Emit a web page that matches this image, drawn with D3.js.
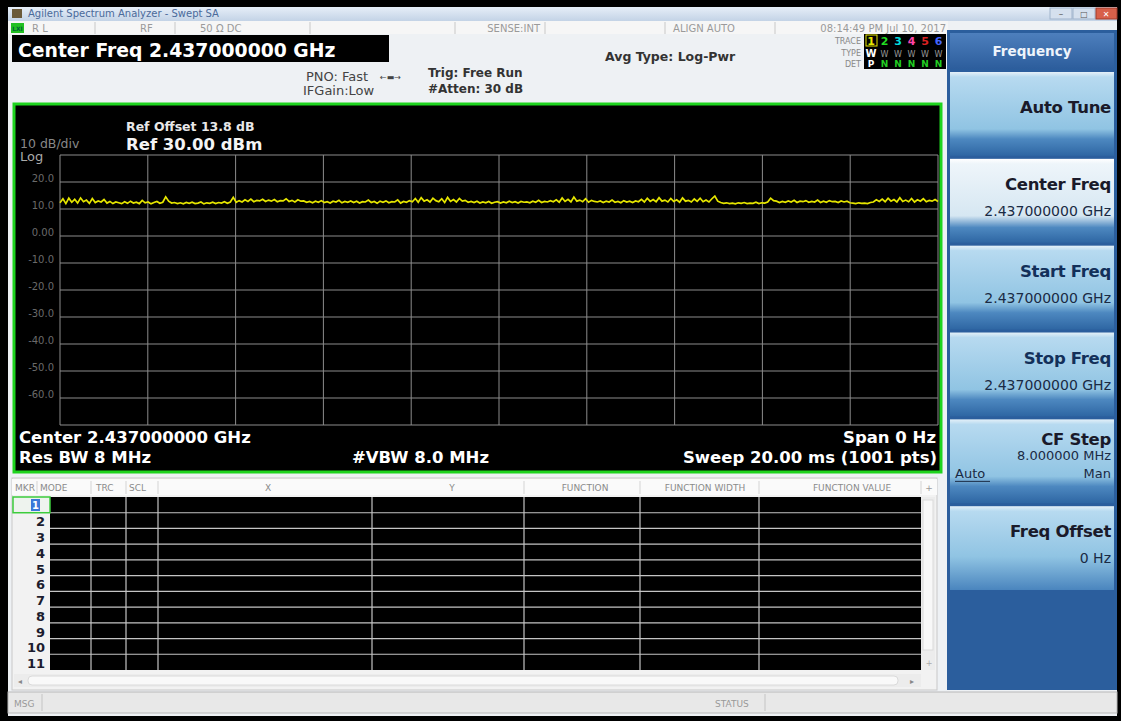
<!DOCTYPE html>
<html>
<head>
<meta charset="utf-8">
<script src="https://cdn.jsdelivr.net/npm/d3@7"></script>
<style>
body { margin: 0; background: #000; }
svg { display: block; }
</style>
</head>
<body>
<svg id="scr" width="1121" height="721"></svg>
<script>
const refLevel = 30
const bottomLevel = -70
const yTicks = [20, 10, 0, -10, -20, -30, -40, -50, -60]
const yTickLabels = ["20.0", "10.0", "0.00", "-10.0", "-20.0", "-30.0", "-40.0", "-50.0", "-60.0"]
const sweepMs = 20
const timeDivs = 10

// zero span trace, dBm, sampled across the 20 ms sweep
const trace = [
    12.3, 13.8, 12.0, 14.0, 12.5, 13.6, 12.2, 14.1, 12.7, 13.3, 12.1, 13.9, 12.4, 13.0, 12.6, 13.5, 12.2, 12.8, 12.0, 12.6,
    12.3, 12.0, 12.7, 12.1, 12.9, 12.2, 12.5, 12.0, 13.2, 12.3, 12.6, 11.9, 12.4, 12.8, 12.1, 12.5, 14.5, 12.9, 12.2, 12.4,
    12.0, 12.3, 11.9, 12.4, 12.1, 12.5, 12.0, 12.2, 12.6, 11.9, 12.3, 12.1, 12.5, 12.0, 12.4, 12.2, 12.7, 12.1, 12.6, 14.3,
    12.5, 13.1, 12.6, 13.4, 12.8, 13.7, 12.7, 13.2, 13.0, 13.6, 12.8, 13.3, 12.9, 13.5, 12.7, 13.1, 13.0, 13.8, 12.8, 13.2,
    12.6, 13.4, 12.9, 13.0, 12.5, 12.8, 12.3, 12.9, 12.5, 13.1, 12.4, 12.7, 12.2, 12.9, 12.6, 13.2, 12.3, 12.8, 12.5, 13.0,
    12.4, 12.9, 12.2, 12.7, 12.6, 13.3, 12.4, 12.8, 12.1, 12.9, 12.5, 13.0, 12.3, 12.7, 12.6, 13.4, 12.2, 12.8, 12.5, 13.1,
    12.7, 13.9, 12.5, 14.2, 12.9, 13.4, 12.6, 14.0, 13.1, 12.7, 13.8, 12.4, 14.3, 12.8, 13.5, 12.6, 13.9, 12.9, 13.2, 12.5,
    12.8, 12.4, 12.9, 12.2, 12.6, 12.3, 12.8, 12.1, 12.5, 12.7, 12.2, 12.6, 12.3, 12.9, 12.4, 12.7, 12.2, 12.8, 12.5, 12.6,
    12.3, 12.9, 12.5, 13.2, 12.4, 12.8, 12.6, 13.1, 12.7, 13.4, 12.5, 14.1, 12.8, 13.6, 12.6, 14.4, 12.9, 13.3, 12.7, 13.8,
    12.5, 13.2, 12.8, 12.6, 13.0, 12.4, 12.9, 12.6, 13.3, 12.5, 12.8, 12.3, 13.1, 12.6, 12.9, 12.4, 13.0, 12.7, 13.6, 12.6,
    14.0, 12.8, 13.5, 12.7, 14.2, 12.9, 13.3, 12.6, 13.9, 12.8, 13.4, 12.5, 14.1, 12.9, 13.2, 12.6, 13.7, 12.8, 14.0, 12.7,
    13.3, 12.6, 13.8, 14.8, 12.9, 12.4, 12.1, 12.3, 12.0, 12.2, 11.9, 12.3, 12.1, 12.4, 12.0, 12.2, 12.1, 12.5, 12.0, 12.3,
    12.2, 12.6, 14.0, 13.1, 12.9, 12.4, 12.8, 12.5, 13.0, 12.6, 13.2, 12.4, 12.9, 12.7, 13.1, 12.5, 12.8, 12.6, 13.3, 12.4,
    12.9, 12.5, 13.1, 12.7, 12.8, 12.4, 13.0, 12.6, 12.9, 12.3, 12.2, 12.0, 12.3, 12.1, 12.2, 12.0, 12.4, 12.6, 13.4, 12.8,
    13.7, 12.7, 14.0, 12.9, 13.5, 12.6, 14.2, 12.8, 13.3, 12.7, 13.9, 12.6, 13.4, 12.9, 13.8, 12.7, 13.2, 12.9, 13.5, 12.8
]

const markerRows = [1, 2, 3, 4, 5, 6, 7, 8, 9, 10, 11]
const tableHeads = ["MKR", "MODE", "TRC", "SCL", "X", "Y", "FUNCTION", "FUNCTION WIDTH", "FUNCTION VALUE"]

const softkeyNames = ["Auto Tune", "Center Freq", "Start Freq", "Stop Freq", "CF Step", "Freq Offset"]
const softkeyValues = ["", "2.437000000 GHz", "2.437000000 GHz", "2.437000000 GHz", "8.000000 MHz", "0 Hz"]

const statusItems = ["R L", "RF", "50 \u03A9   DC", "SENSE:INT", "ALIGN AUTO", "08:14:49 PM Jul 10, 2017"]
const traceNums = ["1", "2", "3", "4", "5", "6"]
const traceColors = ["#e8e800", "#22dd22", "#00dddd", "#ff44aa", "#dd2222", "#4466ff"]

// ---- drawing ----
const W = 1121, H = 721
const FONT = "'DejaVu Sans', Verdana, sans-serif"
const svg = d3.select("#scr")

const defs = svg.append("defs")
function vgrad(id, stops) {
    const g = defs.append("linearGradient").attr("id", id)
        .attr("x1", 0).attr("y1", 0).attr("x2", 0).attr("y2", 1)
    stops.forEach(s => g.append("stop").attr("offset", s[0]).attr("stop-color", s[1]))
}
vgrad("title", [[0, "#e6eef8"], [1, "#c3d3e6"]])
vgrad("key", [[0, "#e4f0f8"], [0.06, "#b7daf0"], [0.68, "#90c4e3"], [0.8, "#4d88c0"], [1, "#2e66a3"]])
vgrad("keySel", [[0, "#ffffff"], [0.06, "#eef5fa"], [0.68, "#d6e7f2"], [0.82, "#4d88c0"], [1, "#2e66a3"]])
vgrad("keyLast", [[0, "#e4f0f8"], [0.06, "#b7daf0"], [0.6, "#90c4e3"], [1, "#4a85be"]])
vgrad("keyHead", [[0, "#4d7fbd"], [1, "#2c5d9c"]])

function txt(g, x, y, s, o) {
    o = o || {}
    const t = g.append("text").attr("x", x).attr("y", y).text(s)
        .attr("font-family", FONT)
        .attr("font-size", o.size || 12)
        .attr("font-weight", o.bold ? "bold" : "normal")
        .attr("fill", o.fill || "#000")
        .attr("text-anchor", o.anchor || "start")
    if (o.ls) t.attr("letter-spacing", o.ls)
    return t
}

svg.append("rect").attr("width", W).attr("height", H).attr("fill", "#000")

// window title bar
svg.append("rect").attr("x", 8).attr("y", 7).attr("width", 1109).attr("height", 14).attr("fill", "url(#title)")
svg.append("rect").attr("x", 12).attr("y", 9).attr("width", 10).attr("height", 9).attr("fill", "#6b5a3a")
txt(svg, 28, 17, "Agilent Spectrum Analyzer - Swept SA", {size: 10, fill: "#4a6a9a"})
svg.append("rect").attr("x", 1050).attr("y", 8).attr("width", 22).attr("height", 11).attr("fill", "#d5e0ee").attr("stroke", "#9fb3cc")
svg.append("rect").attr("x", 1073).attr("y", 8).attr("width", 22).attr("height", 11).attr("fill", "#d5e0ee").attr("stroke", "#9fb3cc")
svg.append("rect").attr("x", 1096).attr("y", 8).attr("width", 21).attr("height", 11).attr("fill", "#d8604a").attr("stroke", "#a03a2a")
txt(svg, 1061, 17, "\u2013", {size: 9, fill: "#555", anchor: "middle"})
txt(svg, 1084, 17, "\u25A1", {size: 8, fill: "#555", anchor: "middle"})
txt(svg, 1106, 17, "\u2715", {size: 8, fill: "#fff", anchor: "middle"})

// application background
svg.append("rect").attr("x", 8).attr("y", 21).attr("width", 1109).attr("height", 695).attr("fill", "#eef1f4")

// status row
const statusRow = svg.append("g")
statusRow.append("rect").attr("x", 8).attr("y", 21).attr("width", 940).attr("height", 13).attr("fill", "#f6f6f6")
statusRow.append("rect").attr("x", 11).attr("y", 23).attr("width", 13).attr("height", 10).attr("fill", "#22c022")
txt(statusRow, 17.5, 31, "LXI", {size: 6, bold: true, fill: "#063", anchor: "middle"})
const statusX = [32, 140, 200, 540, 735, 946]
const statusAnchor = ["start", "start", "start", "end", "end", "end"]
statusItems.forEach((s, i) => txt(statusRow, statusX[i], 31.5, s, {size: 10, fill: "#9a9a9a", anchor: statusAnchor[i]}))
;[95, 175, 310, 455, 545, 665, 775].forEach(x =>
    statusRow.append("line").attr("x1", x).attr("x2", x).attr("y1", 22).attr("y2", 34).attr("stroke", "#c8c8c8"))

// header area
const hdr = svg.append("g")
hdr.append("rect").attr("x", 12).attr("y", 35).attr("width", 377).attr("height", 27).attr("fill", "#000")
txt(hdr, 18, 57, "Center Freq 2.437000000 GHz", {size: 18.8, bold: true, fill: "#fff"})
txt(hdr, 306, 81, "PNO: Fast", {size: 13, fill: "#444"})
txt(hdr, 380, 80, "\u2190\u25AC\u2192", {size: 8, fill: "#444"})
txt(hdr, 303, 95, "IFGain:Low", {size: 13, fill: "#444"})
txt(hdr, 428, 77, "Trig: Free Run", {size: 12, bold: true, fill: "#333"})
txt(hdr, 428, 93, "#Atten: 30 dB", {size: 12, bold: true, fill: "#333"})
txt(hdr, 605, 61, "Avg Type: Log-Pwr", {size: 12.5, bold: true, fill: "#333"})

// trace block
const tb = svg.append("g")
txt(tb, 861, 44, "TRACE", {size: 8, fill: "#888", anchor: "end"})
txt(tb, 861, 56, "TYPE", {size: 8, fill: "#888", anchor: "end"})
txt(tb, 861, 67, "DET", {size: 8, fill: "#888", anchor: "end"})
tb.append("rect").attr("x", 864).attr("y", 34).attr("width", 82).attr("height", 35).attr("fill", "#000")
tb.append("rect").attr("x", 866).attr("y", 35).attr("width", 11).attr("height", 11).attr("fill", "none").attr("stroke", "#e8e800")
traceNums.forEach((n, i) => {
    txt(tb, 871 + i * 13.5, 45, n, {size: 11, bold: true, fill: traceColors[i], anchor: "middle"})
    txt(tb, 871 + i * 13.5, 57, "W", {size: i === 0 ? 10 : 8, bold: i === 0, fill: i === 0 ? "#fff" : "#999", anchor: "middle"})
    txt(tb, 871 + i * 13.5, 67, i === 0 ? "P" : "N", {size: 9, bold: true, fill: i === 0 ? "#fff" : "#22cc22", anchor: "middle"})
})

// graph panel
const panel = svg.append("g")
panel.append("rect").attr("x", 14).attr("y", 104).attr("width", 927).attr("height", 368)
    .attr("fill", "#000").attr("stroke", "#1ed41e").attr("stroke-width", 3)

const x = d3.scaleLinear().domain([0, sweepMs]).range([60, 938])
const y = d3.scaleLinear().domain([bottomLevel, refLevel]).range([425, 155])

const grid = panel.append("g")
grid.selectAll("line.v").data(d3.range(0, sweepMs + 0.001, sweepMs / timeDivs)).join("line")
    .attr("class", "v")
    .attr("x1", d => x(d)).attr("x2", d => x(d))
    .attr("y1", y(refLevel)).attr("y2", y(bottomLevel))
    .attr("stroke", "#8c8c8c").attr("stroke-width", 1)
grid.selectAll("line.h").data([refLevel].concat(yTicks, [bottomLevel])).join("line")
    .attr("class", "h")
    .attr("x1", x(0)).attr("x2", x(sweepMs))
    .attr("y1", d => y(d)).attr("y2", d => y(d))
    .attr("stroke", "#8c8c8c").attr("stroke-width", 1)

const yAxis = d3.axisLeft(y).tickValues(yTicks).tickSize(0).tickPadding(6)
    .tickFormat((d, i) => yTickLabels[i])
const ax = panel.append("g").attr("transform", `translate(${x(0)},0)`).call(yAxis)
ax.select(".domain").remove()
ax.selectAll("text").attr("font-family", FONT).attr("font-size", 10).attr("fill", "#6a6a6a").attr("dy", "-0.1em")

txt(panel, 126, 131, "Ref Offset 13.8 dB", {size: 12.5, bold: true, fill: "#e8e8e8"})
txt(panel, 126, 150, "Ref 30.00 dBm", {size: 16.5, bold: true, fill: "#f4f4f4"})
txt(panel, 20, 148, "10 dB/div", {size: 12.5, fill: "#888"})
txt(panel, 20, 161, "Log", {size: 13, fill: "#aaa"})

const line = d3.line()
    .x((d, i) => x(i * sweepMs / (trace.length - 1)))
    .y(d => y(d))
panel.append("path").datum(trace).attr("d", line)
    .attr("fill", "none").attr("stroke", "#e6e600").attr("stroke-width", 1.7)

txt(panel, 19, 443, "Center 2.437000000 GHz", {size: 16.5, bold: true, fill: "#fff"})
txt(panel, 936, 443, "Span 0 Hz", {size: 16.5, bold: true, fill: "#fff", anchor: "end"})
txt(panel, 19, 463, "Res BW 8 MHz", {size: 16.5, bold: true, fill: "#fff"})
txt(panel, 352, 463, "#VBW 8.0 MHz", {size: 16.5, bold: true, fill: "#fff"})
txt(panel, 937, 463, "Sweep  20.00 ms (1001 pts)", {size: 16.5, bold: true, fill: "#fff", anchor: "end"})

// marker table
const tbl = svg.append("g")
tbl.append("rect").attr("x", 12).attr("y", 478).attr("width", 925).attr("height", 212).attr("fill", "#f2f2f2").attr("stroke", "#c8c8c8")
tbl.append("rect").attr("x", 12).attr("y", 479).attr("width", 925).attr("height", 16).attr("fill", "#fafafa")
const headX = [15, 40, 96, 129, 268, 452, 585, 705, 852]
const headAnchor = ["start", "start", "start", "start", "middle", "middle", "middle", "middle", "middle"]
tableHeads.forEach((s, i) => txt(tbl, headX[i], 491, s, {size: 9, fill: "#8a8a8a", anchor: headAnchor[i]}))
txt(tbl, 929, 491, "+", {size: 9, fill: "#999", anchor: "middle"})
;[37, 91, 126, 158, 524, 640, 759, 921].forEach(xx =>
    tbl.append("line").attr("x1", xx).attr("x2", xx).attr("y1", 481).attr("y2", 494).attr("stroke", "#d4d4d4"))

const rowY = d3.scaleBand().domain(markerRows).range([497, 670])
tbl.append("rect").attr("x", 50).attr("y", 497).attr("width", 871).attr("height", 173).attr("fill", "#000")
tbl.selectAll("line.row").data(markerRows.slice(1)).join("line")
    .attr("class", "row")
    .attr("x1", 50).attr("x2", 921)
    .attr("y1", d => rowY(d)).attr("y2", d => rowY(d))
    .attr("stroke", "#c4c4c4").attr("stroke-width", 1.2)
;[91, 126, 158, 372, 524, 640, 759].forEach(xx =>
    tbl.append("line").attr("x1", xx).attr("x2", xx).attr("y1", 497).attr("y2", 670).attr("stroke", "#c4c4c4").attr("stroke-width", 1.2))
tbl.append("rect").attr("x", 13).attr("y", 497).attr("width", 37).attr("height", rowY.bandwidth())
    .attr("fill", "#eef3ee").attr("stroke", "#3ccc3c").attr("stroke-width", 1.5)
tbl.append("rect").attr("x", 31).attr("y", 499).attr("width", 9).attr("height", 12).attr("fill", "#3a78d8")
markerRows.forEach(r => {
    if (r === 1) txt(tbl, 35.5, 509, "1", {size: 10, bold: true, fill: "#fff", anchor: "middle"})
    else txt(tbl, 45, rowY(r) + rowY.bandwidth() - 2, r, {size: 13, bold: true, fill: "#1c1c2e", anchor: "end"})
})
// scrollbars
tbl.append("rect").attr("x", 921).attr("y", 497).attr("width", 14).attr("height", 173).attr("fill", "#ececec")
tbl.append("rect").attr("x", 923).attr("y", 500).attr("width", 10).attr("height", 150).attr("fill", "#f8f8f8").attr("stroke", "#dadada")
txt(tbl, 929, 666, "+", {size: 8, fill: "#aaa", anchor: "middle"})
tbl.append("rect").attr("x", 14).attr("y", 674).attr("width", 907).attr("height", 13).attr("fill", "#ececec")
tbl.append("rect").attr("x", 28).attr("y", 676).attr("width", 870).attr("height", 9).attr("rx", 4).attr("fill", "#f9f9f9").attr("stroke", "#dadada")
txt(tbl, 20, 684, "\u25C2", {size: 8, fill: "#888", anchor: "middle"})
txt(tbl, 912, 684, "\u25B8", {size: 8, fill: "#888", anchor: "middle"})

// bottom status bar
const sb = svg.append("g")
sb.append("rect").attr("x", 8).attr("y", 692).attr("width", 1109).attr("height", 21).attr("fill", "#e8e8e8").attr("stroke", "#b8b8b8")
txt(sb, 14, 707, "MSG", {size: 9, fill: "#999"})
sb.append("line").attr("x1", 42).attr("x2", 42).attr("y1", 694).attr("y2", 711).attr("stroke", "#c4c4c4")
txt(sb, 715, 707, "STATUS", {size: 9, fill: "#999"})
sb.append("line").attr("x1", 765).attr("x2", 765).attr("y1", 694).attr("y2", 711).attr("stroke", "#c4c4c4")

// softkey menu
const menu = svg.append("g")
menu.append("rect").attr("x", 947).attr("y", 30).attr("width", 170).attr("height", 660).attr("fill", "#2b5e9d")
menu.append("rect").attr("x", 950).attr("y", 33).attr("width", 164).attr("height", 36).attr("fill", "url(#keyHead)")
txt(menu, 1032, 56, "Frequency", {size: 13.5, bold: true, fill: "#eef4fb", anchor: "middle"})

const keyY = d3.scaleBand().domain(softkeyNames).range([72, 590]).paddingInner(0.035)
softkeyNames.forEach((k, i) => {
    const top = keyY(k), h = keyY.bandwidth()
    const fill = i === 1 ? "url(#keySel)" : (i === softkeyNames.length - 1 ? "url(#keyLast)" : "url(#key)")
    menu.append("rect").attr("x", 950).attr("y", top).attr("width", 164).attr("height", h).attr("fill", fill)
    const cf = k === "CF Step"
    const hasVal = softkeyValues[i] !== ""
    const ty = cf ? top + 26 : (hasVal ? top + 31 : top + 41)
    txt(menu, 1111, ty, k, {size: 16.5, bold: true, fill: i === 2 || i === 3 ? "#13305a" : "#1a1a2a", anchor: "end", ls: -0.3})
    if (hasVal) {
        const vy = cf ? top + 41 : top + 57
        txt(menu, 1111, vy, softkeyValues[i], {size: cf ? 13 : 14, fill: "#1a2a44", anchor: "end"})
    }
    if (cf) {
        txt(menu, 955, top + 59, "Auto", {size: 13, fill: "#1a2a44"})
        menu.append("line").attr("x1", 955).attr("x2", 990).attr("y1", top + 62).attr("y2", top + 62).attr("stroke", "#1a2a44")
        txt(menu, 1111, top + 59, "Man", {size: 13, fill: "#1a2a44", anchor: "end"})
    }
})
</script>
</body>
</html>
